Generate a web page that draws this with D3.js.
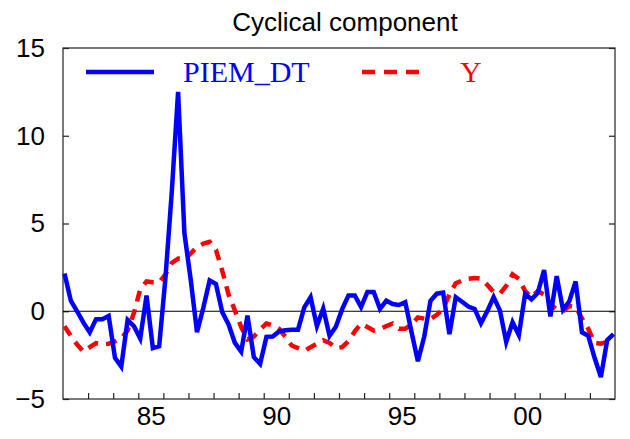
<!DOCTYPE html>
<html>
<head>
<meta charset="utf-8">
<script src="https://cdn.jsdelivr.net/npm/d3@7"></script>
<style>
  html, body { margin: 0; padding: 0; background: #fff; }
  svg { display: block; }
</style>
</head>
<body>
<svg id="chart" width="630" height="439"></svg>
<script>
// ---- Data ----
const startYear = 1982;
const quarters = d3.range(88).map(i => `${startYear + Math.floor(i / 4)}Q${(i % 4) + 1}`);

const piemDT = [
  2.15, 0.6, 0.0, -0.65, -1.2, -0.45, -0.45, -0.27,
  -2.65, -3.15, -0.5, -0.85, -1.55, 0.9, -2.1, -2.0,
  1.9, 6.8, 12.5, 4.45, 1.8, -1.2, 0.2, 1.75,
  1.55, -0.05, -0.75, -1.8, -2.3, -0.25, -2.6, -3.0,
  -1.46, -1.44, -1.15, -1.08, -1.06, -1.05, 0.22, 0.8,
  -0.85, 0.16, -1.4, -0.88, 0.12, 0.9, 0.9, 0.24,
  1.1, 1.1, 0.13, 0.6, 0.41, 0.36, 0.52, -1.2,
  -2.85, -1.45, 0.6, 1.0, 1.06, -1.3, 0.8, 0.54,
  0.27, 0.13, -0.69, 0.01, 0.81, 0.05, -1.75, -0.63,
  -1.36, 1.0, 0.68, 1.05, 2.35, -0.3, 2.0, 0.08,
  0.57, 1.7, -1.2, -1.4, -2.65, -3.75, -1.64, -1.3
];

const yCycle = [
  -0.85, -1.4, -1.9, -2.3, -2.05, -1.82, -1.88, -1.85,
  -1.72, -1.55, -1.1, -0.1, 1.25, 1.7, 1.65, 1.65,
  2.1, 2.75, 3.0, 2.95, 3.3, 3.65, 3.85, 3.95,
  3.5, 2.3, 0.95, 0.05, -0.9, -1.6, -1.45, -1.05,
  -0.7, -0.8, -1.0, -1.45, -1.95, -2.1, -2.25, -2.05,
  -1.85, -1.65, -1.8, -2.1, -2.05, -1.7, -1.15, -0.7,
  -0.9, -1.1, -1.0, -0.85, -0.7, -1.0, -1.0, -0.75,
  -0.35, -0.42, -0.45, -0.2, 0.15, 0.95, 1.6, 1.75,
  1.85, 1.9, 1.85, 1.5, 1.1, 1.0, 1.45, 2.1,
  1.85, 1.15, 0.8, 1.15, 0.95, 0.4, 0.1, 0.0,
  0.3, 0.25, -0.4, -1.0, -1.8, -1.85, -1.75, -1.6
];

const yTicks = [-5, 0, 5, 10, 15];
const yearTicks = d3.range(1983, 2004);
const yearLabels = [1985, 1990, 1995, 2000];
const seriesNames = ["PIEM_DT", "Y"];
const title = "Cyclical component";

// ---- Layout ----
const pLeft = 63, pRight = 615, pTop = 48, pBottom = 399;
const svg = d3.select("#chart");

const x = d3.scalePoint().domain(quarters).range([pLeft + 1.5, pRight - 1.5]);
const xYear = d3.scaleLinear().domain([startYear, 2004]).range([pLeft, pRight]);
const y = d3.scaleLinear().domain([-5, 15]).range([pBottom, pTop]);

// Title
svg.append("text")
  .attr("x", 345).attr("y", 31)
  .attr("text-anchor", "middle")
  .attr("font-family", "Liberation Sans, Arial, sans-serif")
  .attr("font-size", 26)
  .attr("fill", "#000")
  .text(title);

// Frame
svg.append("rect")
  .attr("x", pLeft).attr("y", pTop)
  .attr("width", pRight - pLeft).attr("height", pBottom - pTop)
  .attr("fill", "none").attr("stroke", "#222").attr("stroke-width", 1.2);

// Left axis (ticks inward)
const yAxisL = svg.append("g")
  .attr("transform", `translate(${pLeft},0)`)
  .call(d3.axisLeft(y).tickValues(yTicks).tickSizeInner(-6).tickSizeOuter(0).tickPadding(18).tickFormat(d3.format("d")));
yAxisL.select(".domain").remove();
yAxisL.selectAll("line").attr("stroke", "#222").attr("stroke-width", 1.2);
yAxisL.selectAll("text")
  .attr("font-family", "Liberation Sans, Arial, sans-serif")
  .attr("font-size", 26).attr("fill", "#000");

// Right axis ticks
const yAxisR = svg.append("g")
  .attr("transform", `translate(${pRight},0)`)
  .call(d3.axisRight(y).tickValues(yTicks).tickSizeInner(-6).tickSizeOuter(0).tickFormat(""));
yAxisR.select(".domain").remove();
yAxisR.selectAll("line").attr("stroke", "#222").attr("stroke-width", 1.2);

// Bottom axis: year boundary ticks
const xAxisT = svg.append("g")
  .attr("transform", `translate(0,${pBottom})`)
  .call(d3.axisBottom(xYear).tickValues(yearTicks).tickSizeInner(-6).tickSizeOuter(0).tickFormat(""));
xAxisT.select(".domain").remove();
xAxisT.selectAll("line").attr("stroke", "#222").attr("stroke-width", 1.2);

// Bottom axis labels centred within the year
const xAxisL = svg.append("g")
  .attr("transform", `translate(0,${pBottom})`)
  .call(d3.axisBottom(xYear).tickValues(yearLabels.map(v => v + 0.5)).tickSize(0).tickPadding(8)
    .tickFormat(v => String(Math.floor(v) % 100).padStart(2, "0")));
xAxisL.select(".domain").remove();
xAxisL.selectAll("text")
  .attr("font-family", "Liberation Sans, Arial, sans-serif")
  .attr("font-size", 26).attr("fill", "#000");

// Zero line
svg.append("line")
  .attr("x1", pLeft).attr("x2", pRight)
  .attr("y1", y(0)).attr("y2", y(0))
  .attr("stroke", "#000").attr("stroke-width", 1.2);

// Lines
const line = d3.line().x((d, i) => x(quarters[i])).y(d => y(d));

svg.append("path").datum(yCycle)
  .attr("d", line)
  .attr("fill", "none")
  .attr("stroke", "#ff0000")
  .attr("stroke-width", 4.5)
  .attr("stroke-dasharray", "11,8");

svg.append("path").datum(piemDT)
  .attr("d", line)
  .attr("fill", "none")
  .attr("stroke", "#0000ff")
  .attr("stroke-width", 4.5)
  .attr("stroke-linejoin", "miter");

// Legend
const lg = svg.append("g");
lg.append("line").attr("x1", 86).attr("x2", 154).attr("y1", 72).attr("y2", 72)
  .attr("stroke", "#0000ff").attr("stroke-width", 4.5);
lg.append("text").attr("x", 183).attr("y", 82)
  .attr("font-family", "Liberation Serif, Times New Roman, serif")
  .attr("font-size", 30).attr("fill", "#0000ff").text(seriesNames[0]);
lg.append("line").attr("x1", 362).attr("x2", 420).attr("y1", 72).attr("y2", 72)
  .attr("stroke", "#ff0000").attr("stroke-width", 4.5).attr("stroke-dasharray", "13,9");
lg.append("text").attr("x", 460).attr("y", 82)
  .attr("font-family", "Liberation Serif, Times New Roman, serif")
  .attr("font-size", 30).attr("fill", "#ff0000").text(seriesNames[1]);
</script>
</body>
</html>
